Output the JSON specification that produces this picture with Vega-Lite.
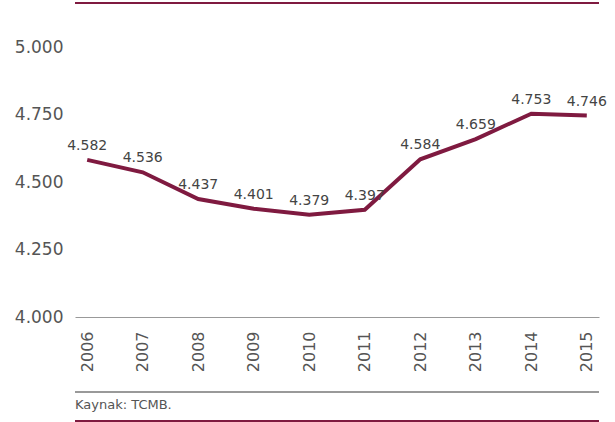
{
  "$schema": "https://vega.github.io/schema/vega-lite/v6.json",
  "width": 524,
  "height": 270,
  "autosize": {"type": "none"},
  "padding": {"left": 75, "top": 47, "right": 16, "bottom": 105},
  "background": "white",
  "config": {"view": {"stroke": null}, "font": "DejaVu Sans"},
  "title": {
    "text": "Kaynak: TCMB.",
    "orient": "bottom",
    "anchor": "start",
    "frame": "group",
    "fontSize": 13,
    "fontWeight": "normal",
    "color": "#555555",
    "font": "DejaVu Sans",
    "baseline": "top",
    "offset": -23
  },
  "data": {
    "values": [
      {"year": "2006", "value": 4582, "label": "4.582"},
      {"year": "2007", "value": 4536, "label": "4.536"},
      {"year": "2008", "value": 4437, "label": "4.437"},
      {"year": "2009", "value": 4401, "label": "4.401"},
      {"year": "2010", "value": 4379, "label": "4.379"},
      {"year": "2011", "value": 4397, "label": "4.397"},
      {"year": "2012", "value": 4584, "label": "4.584"},
      {"year": "2013", "value": 4659, "label": "4.659"},
      {"year": "2014", "value": 4753, "label": "4.753"},
      {"year": "2015", "value": 4746, "label": "4.746"}
    ]
  },
  "encoding": {
    "x": {
      "field": "year",
      "type": "ordinal",
      "scale": {"type": "point", "padding": 0.22},
      "axis": {
        "title": null,
        "labelAngle": 270,
        "labelFontSize": 16,
        "labelColor": "#555555",
        "labelPadding": 14,
        "ticks": false,
        "domainColor": "#999999",
        "domainWidth": 1,
        "grid": false
      }
    },
    "y": {
      "field": "value",
      "type": "quantitative",
      "scale": {"domain": [4000, 5000], "nice": false, "zero": false},
      "axis": {
        "title": null,
        "values": [4000, 4250, 4500, 4750, 5000],
        "labelExpr": "floor(datum.value/1000) + '.' + (datum.value % 1000 == 0 ? '000' : format(datum.value % 1000, '03d'))",
        "labelFontSize": 17,
        "labelColor": "#555555",
        "labelPadding": 12,
        "ticks": false,
        "domain": false,
        "grid": false
      }
    }
  },
  "layer": [
    {
      "mark": {"type": "line", "color": "#7f1a40", "strokeWidth": 4, "strokeJoin": "miter"}
    },
    {
      "mark": {"type": "text", "fontSize": 14, "color": "#444444", "baseline": "bottom", "dy": -7},
      "encoding": {"text": {"field": "label"}}
    },
    {
      "mark": {"type": "rule", "color": "#7f1a40", "strokeWidth": 2},
      "encoding": {"y": {"datum": 5163}, "x": null}
    },
    {
      "mark": {"type": "rule", "color": "#999999", "strokeWidth": 1},
      "encoding": {"y": {"datum": 3722}, "x": null}
    },
    {
      "mark": {"type": "rule", "color": "#7f1a40", "strokeWidth": 2},
      "encoding": {"y": {"datum": 3615}, "x": null}
    }
  ]
}
